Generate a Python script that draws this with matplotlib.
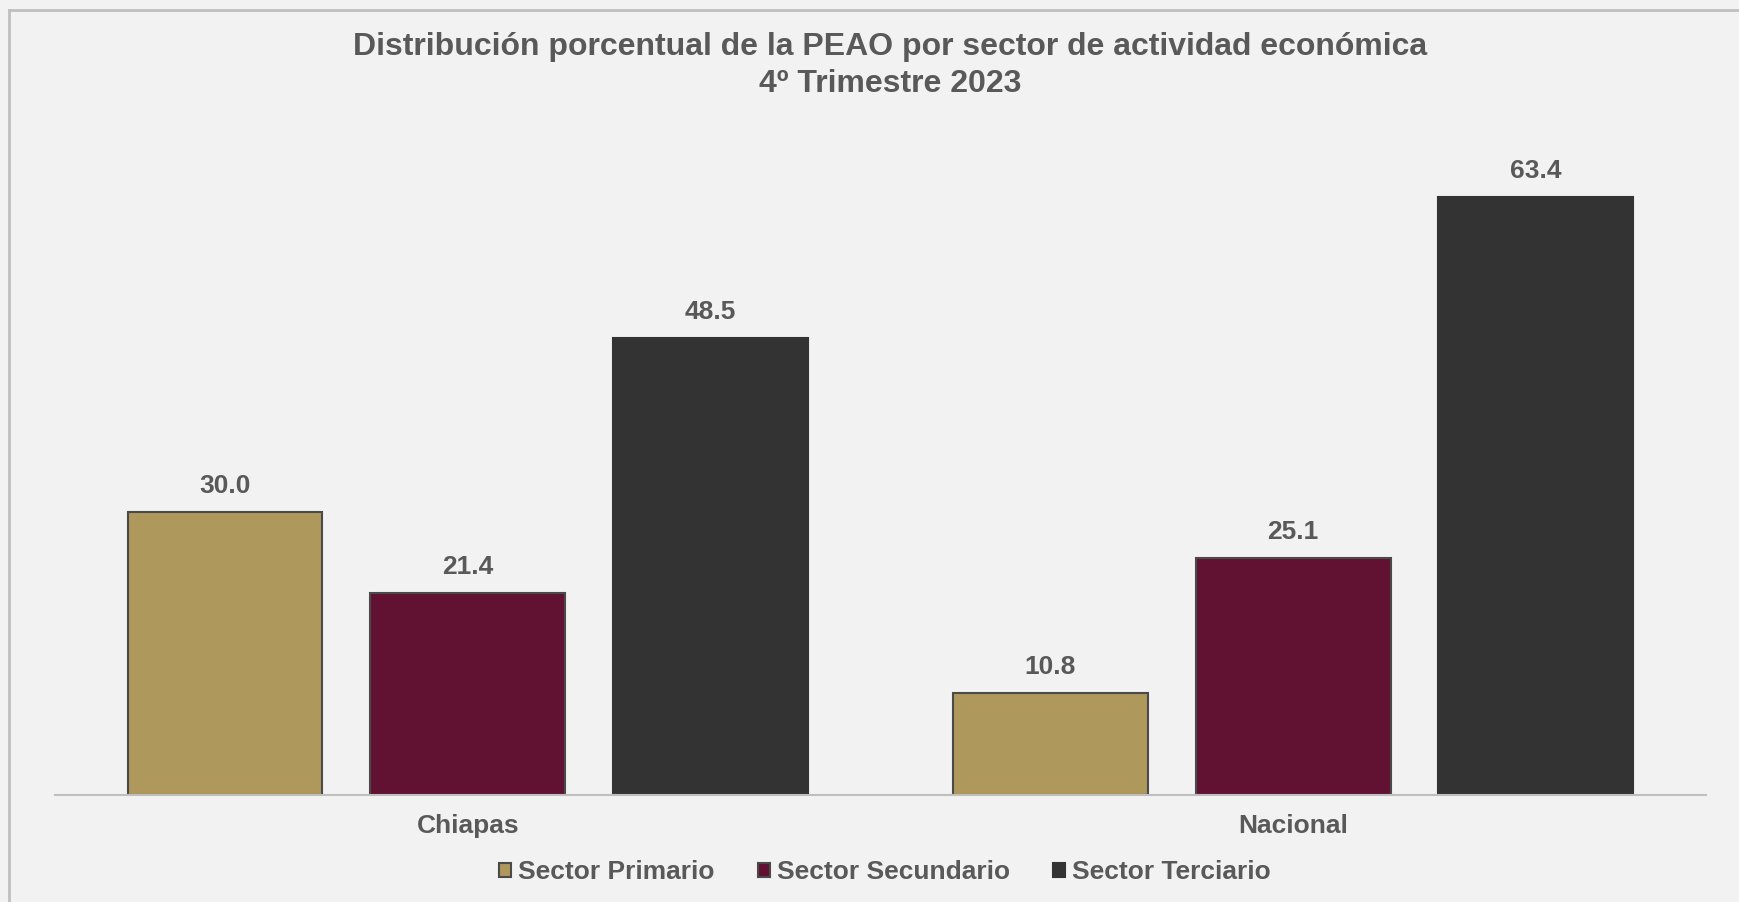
import numpy as np
import matplotlib.pyplot as plt
from matplotlib.lines import Line2D

plt.rcParams['font.family'] = ['Liberation Sans', 'DejaVu Sans']

# datos
regiones = ['Chiapas', 'Nacional']
sectores = ['Sector Primario', 'Sector Secundario', 'Sector Terciario']
primario = [30.0, 10.8]
secundario = [21.4, 25.1]
terciario = [48.5, 63.4]

colores = ['#AF985C', '#611232', '#333333']
bordes = ['#4a4a4a', '#4a4a4a', '#333333']
texto = '#595959'
fondo = '#F2F2F2'

fig = plt.figure(figsize=(17.39, 9.02), dpi=100, facecolor=fondo)
ax = fig.add_axes([0.0316, 0.1186, 0.9494, 0.7317])
ax.set_facecolor(fondo)

x = np.arange(len(regiones))
ancho = 0.236
paso = 0.294

for i, (vals, nombre) in enumerate(zip([primario, secundario, terciario], sectores)):
    pos = x + (i - 1) * paso
    barras = ax.bar(pos, vals, ancho, color=colores[i], edgecolor=bordes[i],
                    linewidth=1.5, label=nombre, zorder=2)
    for b, v in zip(barras, vals):
        ax.text(b.get_x() + b.get_width() / 2, v + 1.5, f'{v:.1f}',
                ha='center', va='bottom', fontsize=19, fontweight='bold', color=texto)

ax.set_xlim(-0.5, 1.5)
ax.set_ylim(0, 70)
ax.set_yticks([])
ax.set_xticks(x)
ax.set_xticklabels(regiones, fontsize=19, fontweight='bold', color=texto)
ax.tick_params(axis='x', length=0, pad=14)
for s in ['top', 'right', 'left']:
    ax.spines[s].set_visible(False)
ax.spines['bottom'].set_color('#BFBFBF')
ax.spines['bottom'].set_linewidth(1.5)

cx = 890 / 1739
fig.text(cx, 1 - 47 / 902, 'Distribución porcentual de la PEAO por sector de actividad económica',
         ha='center', va='center', fontsize=23, fontweight='bold', color=texto)
fig.text(cx, 1 - 84 / 902, '4º Trimestre 2023',
         ha='center', va='center', fontsize=23, fontweight='bold', color=texto)

leg = fig.legend(loc='center', bbox_to_anchor=(885 / 1739, 1 - 872 / 902), ncol=3, frameon=False,
                 handlelength=0.45, handleheight=0.45, handletextpad=0.27, columnspacing=1.63,
                 prop={'size': 19, 'weight': 'bold'})
for t in leg.get_texts():
    t.set_color(texto)

# marco de la imagen
fig.add_artist(Line2D([9 / 1739, 9 / 1739], [0, 1 - 10 / 902], transform=fig.transFigure,
                      color='#BFBFBF', linewidth=2))
fig.add_artist(Line2D([9 / 1739, 1], [1 - 10 / 902, 1 - 10 / 902], transform=fig.transFigure,
                      color='#BFBFBF', linewidth=2))

fig.savefig('out.png', dpi=100, facecolor=fondo)
